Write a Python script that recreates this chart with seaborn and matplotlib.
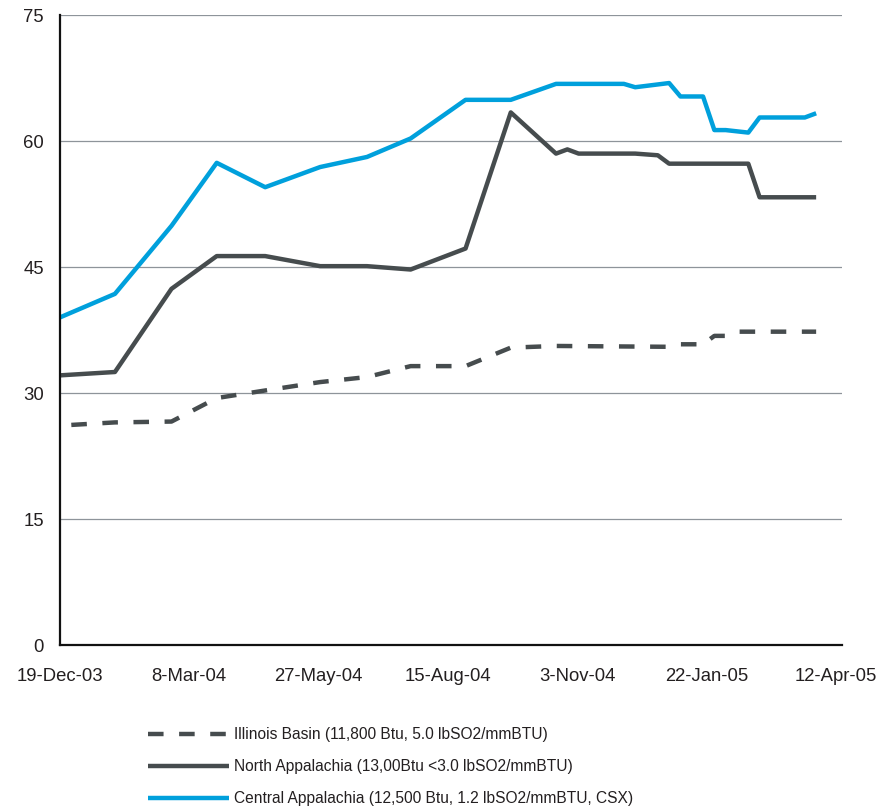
import pandas as pd
import numpy as np
import matplotlib
matplotlib.use('Agg')
import matplotlib.pyplot as plt
import matplotlib.dates as mdates
from matplotlib.ticker import FuncFormatter
import seaborn as sns

sns.set_style('white')
plt.rcParams['font.family'] = ['Liberation Sans', 'DejaVu Sans']

# %%
# data ($/ton)

illinois_dates = ['2003-12-26', '2004-01-22', '2004-02-26', '2004-03-25', '2004-04-24',
                  '2004-05-28', '2004-06-26', '2004-07-23', '2004-08-26', '2004-09-23',
                  '2004-10-21', '2004-12-30', '2005-01-06', '2005-01-20', '2005-01-27',
                  '2005-02-03', '2005-02-10', '2005-03-31']
illinois_vals = [26.2, 26.5, 26.6, 29.4, 30.3,
                 31.3, 31.9, 33.2, 33.2, 35.4,
                 35.6, 35.5, 35.8, 35.8, 36.8,
                 36.8, 37.3, 37.3]

north_dates = ['2003-12-19', '2004-01-22', '2004-02-26', '2004-03-25', '2004-04-24',
               '2004-05-28', '2004-06-26', '2004-07-23', '2004-08-26', '2004-09-23',
               '2004-10-21', '2004-10-28', '2004-11-04', '2004-12-09', '2004-12-23',
               '2004-12-30', '2005-02-17', '2005-02-24', '2005-03-31']
north_vals = [32.1, 32.5, 42.4, 46.3, 46.3,
              45.1, 45.1, 44.7, 47.2, 63.4,
              58.5, 59.0, 58.5, 58.5, 58.3,
              57.3, 57.3, 53.3, 53.3]

central_dates = ['2003-12-19', '2004-01-22', '2004-02-26', '2004-03-25', '2004-04-24',
                 '2004-05-28', '2004-06-26', '2004-07-23', '2004-08-26', '2004-09-23',
                 '2004-10-21', '2004-12-02', '2004-12-09', '2004-12-30', '2005-01-06',
                 '2005-01-20', '2005-01-27', '2005-02-03', '2005-02-17', '2005-02-24',
                 '2005-03-24', '2005-03-31']
central_vals = [39.0, 41.8, 49.9, 57.4, 54.5,
                56.9, 58.1, 60.3, 64.9, 64.9,
                66.8, 66.8, 66.4, 66.9, 65.3,
                65.3, 61.3, 61.3, 61.0, 62.8,
                62.8, 63.3]

labels = ['Illinois Basin (11,800 Btu, 5.0 lbSO2/mmBTU)',
          'North Appalachia (13,00Btu <3.0 lbSO2/mmBTU)',
          'Central Appalachia (12,500 Btu, 1.2 lbSO2/mmBTU, CSX)']

tick_dates = ['2003-12-19', '2004-03-08', '2004-05-27', '2004-08-15',
              '2004-11-03', '2005-01-22', '2005-04-12']
y_ticks = [0, 15, 30, 45, 60, 75]

# %%

ill = pd.DataFrame({'date': pd.to_datetime(illinois_dates), 'price': illinois_vals})
nor = pd.DataFrame({'date': pd.to_datetime(north_dates), 'price': north_vals})
cen = pd.DataFrame({'date': pd.to_datetime(central_dates), 'price': central_vals})

dark = '#464c4e'
blue = '#00a0dc'

fig = plt.figure(figsize=(8.87, 8.09), dpi=100)
ax = fig.add_axes([60 / 887, 1 - 645 / 809, (842 - 60) / 887, (645 - 15) / 809])

ax.yaxis.grid(True, color='#8e949a', linewidth=0.9)
ax.set_axisbelow(True)

sns.lineplot(data=ill, x='date', y='price', ax=ax, color=dark, linewidth=3.2,
             linestyle=(0, (3.5, 3.5)), label=labels[0])
sns.lineplot(data=nor, x='date', y='price', ax=ax, color=dark, linewidth=3.2,
             solid_capstyle='butt', label=labels[1])
sns.lineplot(data=cen, x='date', y='price', ax=ax, color=blue, linewidth=3.2,
             solid_capstyle='butt', label=labels[2])

ax.set_ylim(0, 75)
ax.set_yticks(y_ticks)
ax.set_xlim(pd.Timestamp('2003-12-19'), pd.Timestamp('2005-04-16'))
ax.set_xticks(pd.to_datetime(tick_dates))


def fmt_date(x, pos):
    d = mdates.num2date(x)
    return f"{d.day}-{d.strftime('%b-%y')}"


ax.xaxis.set_major_formatter(FuncFormatter(fmt_date))
ax.set_xlabel('')
ax.set_ylabel('')

for s in ['top', 'right']:
    ax.spines[s].set_visible(False)
for s in ['left', 'bottom']:
    ax.spines[s].set_color('#111111')
    ax.spines[s].set_linewidth(1.6)

ax.tick_params(axis='both', which='major', direction='out', length=5.5, width=1.6,
               color='#111111', labelsize=13.3, labelcolor='#231f20')
ax.tick_params(axis='y', pad=6)
ax.tick_params(axis='x', pad=11)

handles, labs = ax.get_legend_handles_labels()
ax.get_legend().remove()
fig.legend(handles, labs, loc='upper left', bbox_to_anchor=(148 / 887, 1 - 727 / 809),
           frameon=False, fontsize=11.2, handlelength=5.2, handletextpad=0.3,
           labelspacing=1.1, borderpad=0, borderaxespad=0, labelcolor='#231f20')

plt.savefig('out.png', dpi=100)
